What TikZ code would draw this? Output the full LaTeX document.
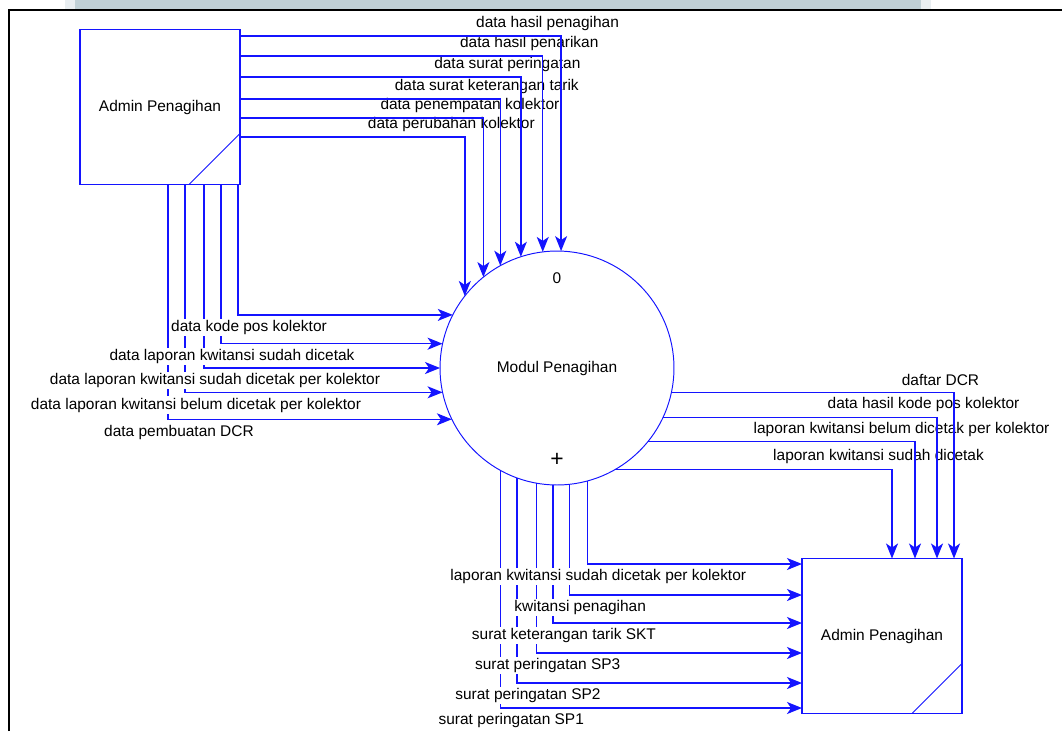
\documentclass[tikz,border=0pt]{standalone}
\usepackage{fontspec}
\setmainfont{Liberation Sans}
\usetikzlibrary{calc,positioning,arrows.meta}
\definecolor{flowblue}{RGB}{20,20,255}
\definecolor{bandgray}{RGB}{192,208,214}

\begin{document}
\begin{tikzpicture}[x=0.02cm,y=-0.02cm,>={Stealth[length=0.3cm,width=0.24cm,inset=0.08cm]},font=\fontsize{8.8}{10}\selectfont]
  \useasboundingbox (0,0) rectangle (1062,731);
  \tikzset{
    entity/.style={rectangle,draw=flowblue,fill=white,line width=0.8pt,minimum width=3.2cm,minimum height=3.1cm,outer sep=0pt,inner sep=0pt},
    process/.style={circle,draw=flowblue,line width=0.55pt,minimum size=4.68cm,outer sep=0pt,inner sep=0pt},
    corner/.style={draw=flowblue,line width=0.55pt},
    % edge styles
    post/.style={->,draw=flowblue,line width=0.8pt},
    % label styles
    labelnw/.style={xshift=-0.27cm,yshift=0.25cm},
    labelse/.style={xshift=0.22cm,yshift=-0.255cm,fill=white,inner sep=0.8pt}
  }

  % Frame
  \fill [bandgray!35] (65,0) rectangle (931,9);
  \fill [bandgray] (75,0) rectangle (921,9);
  \draw [line width=1.2pt] (9,731) -- (9,10) -- (1062,10);

  %%% STARTS

  \node [entity] (adminA) at (160,107)                     {Admin Penagihan};
  \draw [corner] ($(adminA.south east)+(0,-51)$) -- ($(adminA.south east)+(-51,0)$);

  \node [process] (mod) at (557,368)                       {Modul Penagihan};
  \node (procnum) at ($(mod.center)+(0,-90)$)             {0};
  \node [font=\fontsize{13}{14}\selectfont] (procplus) at ($(mod.center)+(0,92)$) {+};

  \node [entity] (adminB) at (882,636)                     {Admin Penagihan};
  \draw [corner] ($(adminB.south east)+(0,-50)$) -- ($(adminB.south east)+(-50,0)$);


  % Admin -> Modul (top)
  \draw [post] (adminA.east |- 0,137) -| node[labelnw] {data perubahan kolektor} (mod.142);
  \draw [post] (adminA.east |- 0,118) -| node[labelnw] {data penempatan kolektor} (mod.129);
  \draw [post] (adminA.east |- 0,99) -| node[labelnw] {data surat keterangan tarik} (mod.119);
  \draw [post] (adminA.east |- 0,77) -| node[labelnw] {data surat peringatan} (mod.108);
  \draw [post] (adminA.east |- 0,56) -| node[labelnw] {data hasil penarikan} (mod.97);
  \draw [post] (adminA.east |- 0,36) -| node[labelnw] {data hasil penagihan} (mod.88);

  % Admin -> Modul (left)
  \draw [post] (adminA.south -| 168,0) |- node[labelse] {data pembuatan DCR} (mod.206);
  \draw [post] (adminA.south -| 185,0) |- node[labelse] {data laporan kwitansi belum dicetak per kolektor} (mod.192);
  \draw [post] (adminA.south -| 204,0) |- node[labelse] {data laporan kwitansi sudah dicetak per kolektor} (mod.180);
  \draw [post] (adminA.south -| 221,0) |- node[labelse] {data laporan kwitansi sudah dicetak} (mod.168);
  \draw [post] (adminA.south -| 238,0) |- node[labelse] {data kode pos kolektor} (mod.153);

  % Modul -> Admin (right)
  \draw [post] (mod.300) -| node[labelnw] {laporan kwitansi sudah dicetak} (adminB.north -| 892,0);
  \draw [post] (mod.321) -| node[labelnw] {laporan kwitansi belum dicetak per kolektor} (adminB.north -| 915,0);
  \draw [post] (mod.335) -| node[labelnw] {data hasil kode pos kolektor} (adminB.north -| 937,0);
  \draw [post] (mod.348) -| node[labelnw] {daftar DCR} (adminB.north -| 954,0);

  % Modul -> Admin (bottom)
  \draw [post] (mod.241) |- node[labelse] {surat peringatan SP1} (adminB.west |- 0,708);
  \draw [post] (mod.250) |- node[labelse] {surat peringatan SP2} (adminB.west |- 0,683);
  \draw [post] (mod.260) |- node[labelse] {surat peringatan SP3} (adminB.west |- 0,653);
  \draw [post] (mod.268) |- node[labelse] {surat keterangan tarik SKT} (adminB.west |- 0,623);
  \draw [post] (mod.276) |- node[labelse] {kwitansi penagihan} (adminB.west |- 0,595);
  \draw [post] (mod.285) |- node[labelse] {laporan kwitansi sudah dicetak per kolektor} (adminB.west |- 0,564);

\end{tikzpicture}
\end{document}
